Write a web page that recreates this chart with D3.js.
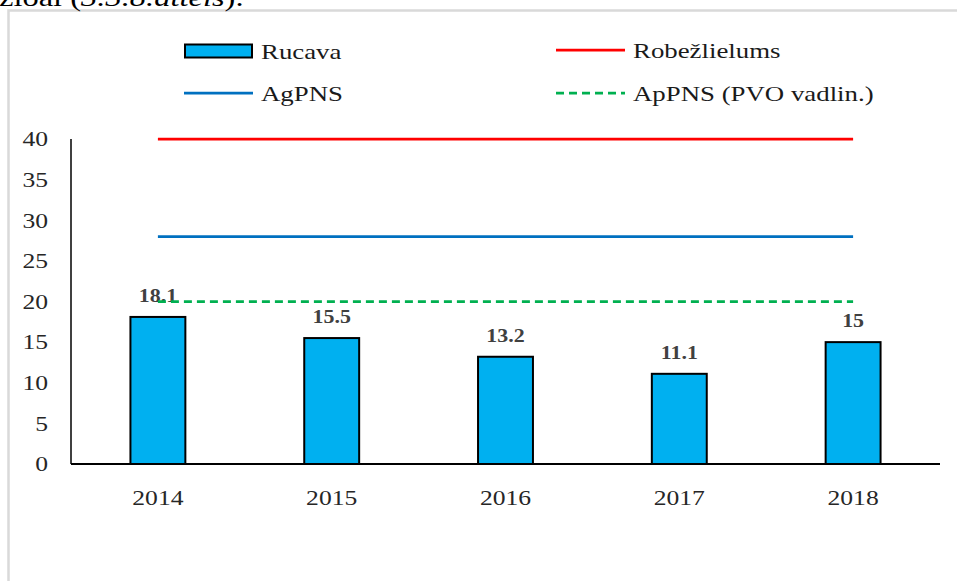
<!DOCTYPE html>
<html>
<head>
<meta charset="utf-8">
<script src="https://cdn.jsdelivr.net/npm/d3@7/dist/d3.min.js"></script>
<style>
  html, body { margin: 0; padding: 0; background: #ffffff; }
  svg { display: block; font-family: "Liberation Serif", "Times New Roman", serif; }
</style>
</head>
<body>
<svg id="chart" width="957" height="581"></svg>
<script>
// Annual mean concentration at Rucava and reference levels
const years = ["2014", "2015", "2016", "2017", "2018"];
const rucava = [18.1, 15.5, 13.2, 11.1, 15];
const limitValue = [40, 40, 40, 40, 40];      // Robežlielums
const assessUpper = [28, 28, 28, 28, 28];     // AgPNS
const assessLower = [20, 20, 20, 20, 20];     // ApPNS (PVO vadlin.)
const yTicks = [0, 5, 10, 15, 20, 25, 30, 35, 40];

const svg = d3.select("#chart");
const WIDE = 1.22; // horizontal widening of the serif lettering

// position a text at (px, py) with widened glyphs
const place = (px, py, s = WIDE) => `translate(${px},${py}) scale(${s},1)`;

// surrounding frame and the end of the preceding text line
svg.append("rect")
  .attr("x", 8.5).attr("y", 10.5)
  .attr("width", 980).attr("height", 600)
  .attr("fill", "none").attr("stroke", "#d9d9d9").attr("stroke-width", 2.5);

const caption = svg.append("text").attr("transform", place(-1, 6, 1.3))
  .attr("font-size", 25).attr("fill", "#000");
caption.append("tspan").text("zioai (");
caption.append("tspan").attr("font-style", "italic").text("3.3.8.attēls");
caption.append("tspan").text(").");

const x = d3.scaleBand().domain(years).range([71, 940])
  .paddingInner(0.684).paddingOuter(0.342);
const y = d3.scaleLinear().domain([0, 40]).range([464, 139]);

// y tick labels
svg.append("g").selectAll("text").data(yTicks).join("text")
  .attr("transform", d => place(48, y(d))).attr("dy", "0.35em")
  .attr("text-anchor", "end").attr("font-size", 21).attr("fill", "#262626")
  .text(d => d);

// x tick labels
svg.append("g").selectAll("text").data(years).join("text")
  .attr("transform", d => place(x(d) + x.bandwidth() / 2, 505))
  .attr("text-anchor", "middle").attr("font-size", 21).attr("fill", "#262626")
  .text(d => d);

// bars
svg.append("g").selectAll("rect").data(years).join("rect")
  .attr("x", d => x(d)).attr("width", x.bandwidth())
  .attr("y", (d, i) => y(rucava[i])).attr("height", (d, i) => y(0) - y(rucava[i]))
  .attr("fill", "#00b0f0").attr("stroke", "#000").attr("stroke-width", 2);

// value labels
svg.append("g").selectAll("text").data(years).join("text")
  .attr("transform", (d, i) => place(x(d) + x.bandwidth() / 2, y(rucava[i]) - 15))
  .attr("text-anchor", "middle").attr("font-size", 18).attr("font-weight", "bold")
  .attr("fill", "#404040")
  .text((d, i) => rucava[i]);

// reference lines
const line = d3.line().x((d, i) => x(years[i]) + x.bandwidth() / 2).y(d => y(d));
const refs = [
  { data: limitValue, color: "#ff0000", dash: null },
  { data: assessUpper, color: "#0070c0", dash: null },
  { data: assessLower, color: "#00b050", dash: "8,5" }
];
refs.forEach(r => {
  svg.append("path").datum(r.data).attr("d", line)
    .attr("fill", "none").attr("stroke", r.color).attr("stroke-width", 2.75)
    .attr("stroke-dasharray", r.dash);
});

// axes lines
svg.append("line").attr("x1", 71).attr("x2", 71).attr("y1", y(40)).attr("y2", y(0))
  .attr("stroke", "#000").attr("stroke-width", 1.5);
svg.append("line").attr("x1", 71).attr("x2", 940).attr("y1", y(0)).attr("y2", y(0))
  .attr("stroke", "#000").attr("stroke-width", 2);

// legend
const legend = [
  { label: "Rucava", type: "bar", color: "#00b0f0", lx: 184, ly: 51 },
  { label: "Robežlielums", type: "line", color: "#ff0000", lx: 556, ly: 50 },
  { label: "AgPNS", type: "line", color: "#0070c0", lx: 184, ly: 93 },
  { label: "ApPNS (PVO vadlin.)", type: "dash", color: "#00b050", lx: 556, ly: 93 }
];
const lg = svg.append("g").selectAll("g").data(legend).join("g")
  .attr("transform", d => `translate(${d.lx},${d.ly})`);
lg.filter(d => d.type === "bar").append("rect")
  .attr("x", 1).attr("y", -6.5).attr("width", 67).attr("height", 13)
  .attr("fill", d => d.color).attr("stroke", "#000").attr("stroke-width", 2);
lg.filter(d => d.type !== "bar").append("line")
  .attr("x1", 0).attr("x2", 69).attr("y1", 0).attr("y2", 0)
  .attr("stroke", d => d.color).attr("stroke-width", 2.75)
  .attr("stroke-dasharray", d => d.type === "dash" ? "8,5" : null);
lg.append("text").attr("transform", place(77, 8))
  .attr("font-size", 22).attr("fill", "#1a1a1a").text(d => d.label);
</script>
</body>
</html>
